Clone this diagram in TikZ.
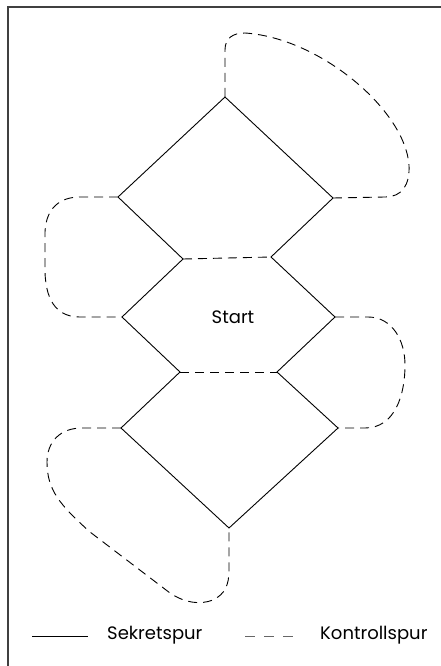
\documentclass[tikz,border=0pt]{standalone}
\usepackage{fontspec}
\setmainfont{Poppins}
\begin{document}
\begin{tikzpicture}[x=1pt,y=-1pt,
  sek/.style={line width=0.9pt, black},
  kon/.style={line width=0.9pt, black, dash pattern=on 9pt off 6pt},
  konleg/.style={line width=0.9pt, black!60, dash pattern=on 10pt off 9pt},
  frame/.style={line width=1.2pt, black!75},
  lbl/.style={font=\fontsize{18}{21}\selectfont, inner sep=0pt}]
\useasboundingbox (0,0) rectangle (441,666);
% frame (top and left only)
\coordinate (F1) at (441,7);
\coordinate (F0) at (8,7);
\coordinate (F2) at (8,666);
\draw[frame] (F1) -- (F0) -- (F2);
% vertices
\coordinate (T) at (225,97);
\coordinate (L1) at (118,197);
\coordinate (R1) at (333,198);
\coordinate (A) at (183,259);
\coordinate (B) at (271,257);
\coordinate (L2) at (122,317);
\coordinate (R2) at (335,317);
\coordinate (C) at (180,372);
\coordinate (D) at (277,372);
\coordinate (L3) at (121,428);
\coordinate (R3) at (338,428);
\coordinate (Bv) at (229,528);
% solid (Sekretspur)
\draw[sek] (L1) -- (T) -- (R1);
\draw[sek] (L1) -- (A) -- (L2) -- (C) -- (L3) -- (Bv) -- (R3) -- (D) -- (R2) -- (B) -- (R1);
% dashed (Kontrollspur)
\draw[kon] (A) -- (B);
\draw[kon] (C) -- (D);
\draw[kon] (T) -- (225,50) .. controls (225,38) and (233,33) .. (245,33)
  .. controls (320,38) and (405,110) .. (409,165)
  .. controls (410,185) and (402,197) .. (385,197) -- (R1);
\draw[kon] (L1) -- (80,197) .. controls (60,197) and (46,208) .. (45,232) -- (45,272)
  .. controls (46,305) and (60,317) .. (80,317) -- (L2);
\draw[kon] (R2) -- (368,317) .. controls (392,317) and (405,340) .. (405,365)
  .. controls (405,395) and (395,428) .. (365,428) -- (R3);
\draw[kon] (L3) -- (82,428) .. controls (60,428) and (47,442) .. (47,462)
  .. controls (47,490) and (60,505) .. (90,532) -- (170,593)
  .. controls (185,603) and (200,605) .. (213,600)
  .. controls (225,594) and (229,585) .. (229,570) -- (Bv);
% label
\node[lbl] (start) at (233,317) {Start};
% legend
\coordinate (S1) at (32,636);
\coordinate (S2) at (88,636);
\draw[sek] (S1) -- (S2);
\node[lbl, anchor=base west] (sektxt) at (107,639) {Sekretspur};
\coordinate (K1) at (245,636);
\coordinate (K2) at (293,636);
\draw[konleg] (K1) -- (K2);
\node[lbl, anchor=base west] (kontxt) at (320,639) {Kontrollspur};
\end{tikzpicture}
\end{document}
